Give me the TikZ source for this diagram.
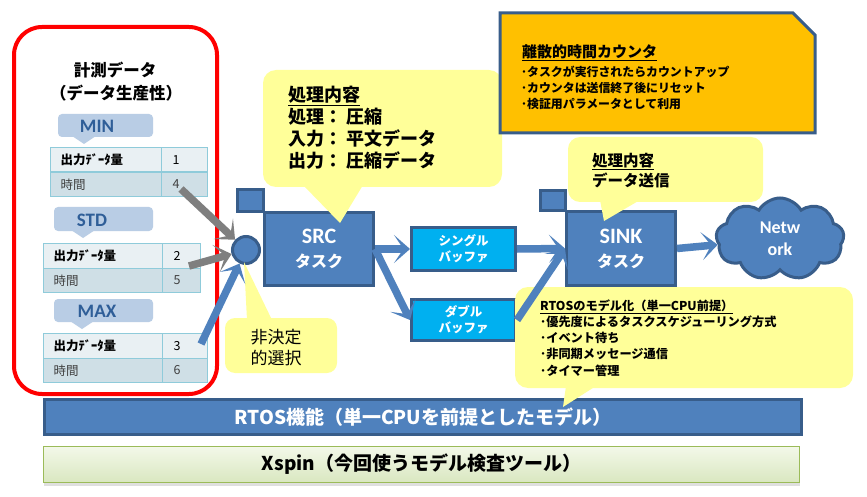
\documentclass[tikz,border=0pt]{standalone}
\usepackage{fontspec}
\setmainfont{Noto Sans CJK JP}
\newfontfamily\latf{Carlito}
\usetikzlibrary{arrows.meta,shapes.symbols,shadows}
\definecolor{bF}{HTML}{4F81BD}
\definecolor{bD}{HTML}{385D8A}
\definecolor{cyanB}{HTML}{00B0F0}
\definecolor{yelC}{HTML}{FFFF99}
\definecolor{orgC}{HTML}{FFC000}
\definecolor{tabF}{HTML}{B9CDE5}
\definecolor{tabT}{HTML}{2F5E98}
\definecolor{cellAF}{HTML}{E9F0F3}
\definecolor{cellBF}{HTML}{CFDFE6}
\definecolor{cellLn}{HTML}{8FCBDA}
\definecolor{grA}{HTML}{7F7F7F}
\definecolor{grnL}{HTML}{9BBB59}
\definecolor{grnT}{HTML}{F3F8E9}
\definecolor{grnB}{HTML}{D9E7C0}
\definecolor{txtG}{HTML}{404040}
\begin{document}
\begin{tikzpicture}[x=1pt,y=-1pt,
  task/.style={draw=bD, fill=bF, line width=3pt, inner sep=0pt},
  buf/.style={draw=bD, fill=cyanB, line width=3pt, inner sep=0pt, text=white, align=center, font=\bfseries\fontsize{12.5}{16}\selectfont},
  callbg/.style={fill=yelC, rounded corners=13pt, inner sep=0pt},
  txt/.style={inner sep=0pt, anchor=west, align=left},
  tabbox/.style={fill=tabF, rounded corners=4pt, inner sep=0pt},
  tabtxt/.style={inner sep=0pt, text=tabT, font=\latf\bfseries\fontsize{19}{20}\selectfont},
  cellbase/.style={draw=cellLn, line width=1.2pt, minimum height=24.5pt, inner ysep=0pt, anchor=north west, align=left, font=\fontsize{12.5}{14}\selectfont},
  cA/.style={cellbase, fill=cellAF, inner xsep=10pt},
  cB/.style={cellbase, fill=cellBF, inner xsep=10pt, text=txtG},
  garr/.style={draw=grA, line width=7.5pt, -{Stealth[length=16pt, width=28pt, inset=9.5pt]}},
  barr/.style={draw=bF, line width=7.5pt, -{Stealth[length=16pt, width=28pt, inset=9.5pt]}}
]
\useasboundingbox (0,0) rectangle (867,497);
\fill[white] (0,0) rectangle (867,497);

% bottom bars
\node[draw=bD, fill=bF, line width=2.5pt, minimum width=757pt, minimum height=35pt, inner sep=0pt, text=white, font=\bfseries\fontsize{19}{22}\selectfont] (rtos) at (423,417) {RTOS機能（単一CPUを前提としたモデル）};
\node[draw=grnL, top color=grnT, bottom color=grnB, line width=1.2pt, minimum width=756pt, minimum height=36pt, inner sep=0pt, drop shadow={shadow xshift=0pt, shadow yshift=-3pt, opacity=0.25}, font=\bfseries\fontsize{19}{22}\selectfont] (xspin) at (421.5,464.5) {Xspin（今回使うモデル検査ツール）};

% left frame
\node[draw=red, line width=4pt, rounded corners=28pt, minimum width=203pt, minimum height=367pt, inner sep=0pt] (frame) at (115.5,210.5) {};
\node[inner sep=0pt, font=\bfseries\fontsize{16.5}{20}\selectfont] (t1) at (115,70) {計測データ};
\node[inner sep=0pt, font=\bfseries\fontsize{16.5}{20}\selectfont] (t2) at (116,93) {（データ生産性）};

% tabs
\node[tabbox, minimum width=95pt, minimum height=23pt] (mintab) at (105.5,125.5) {};
\fill[tabF] (72,136) -- (96,136) -- (84,144) -- cycle;
\node[tabtxt] (minlbl) at (97,126.5) {MIN};
\node[tabbox, minimum width=99pt, minimum height=24pt] (stdtab) at (103.5,219) {};
\fill[tabF] (71,230) -- (95,230) -- (83,238) -- cycle;
\node[tabtxt] (stdlbl) at (92,220) {STD};
\node[tabbox, minimum width=99pt, minimum height=23pt] (maxtab) at (103.5,310.5) {};
\fill[tabF] (70,321) -- (94,321) -- (82,329) -- cycle;
\node[tabtxt] (maxlbl) at (97,311.5) {MAX};

% tables
\node[cA, text width=91pt] (min11) at (50,147) {\bfseries 出力ﾃﾞｰﾀ量};
\node[cA, text width=24pt, inner xsep=11pt] (min12) at (161,147) {1};
\node[cB, text width=91pt] (min21) at (50,171.5) {時間};
\node[cB, text width=24pt, inner xsep=11pt] (min22) at (161,171.5) {4};

\node[cA, text width=99pt] (std11) at (43,243) {\bfseries 出力ﾃﾞｰﾀ量};
\node[cA, text width=16pt, inner xsep=11pt] (std12) at (162,243) {2};
\node[cB, text width=99pt] (std21) at (43,267.5) {時間};
\node[cB, text width=16pt, inner xsep=11pt] (std22) at (162,267.5) {5};

\node[cA, text width=99pt] (max11) at (43,333) {\bfseries 出力ﾃﾞｰﾀ量};
\node[cA, text width=23pt, inner xsep=11pt] (max12) at (162,333) {3};
\node[cB, text width=99pt] (max21) at (43,357.5) {時間};
\node[cB, text width=23pt, inner xsep=11pt] (max22) at (162,357.5) {6};

% selection circle and tasks
\node[circle, draw=bD, fill=bF, line width=3pt, minimum size=27pt, inner sep=0pt] (sel) at (246,250) {};
\node[task, minimum width=26pt, minimum height=22pt] (srcsq) at (250.5,200.5) {};
\node[task, minimum width=109pt, minimum height=73pt, text=white, align=center, font=\bfseries\fontsize{16}{24}\selectfont] (src) at (319,249) {{\latf\bfseries\fontsize{22}{24}\selectfont SRC}\\タスク};
\node[buf, minimum width=104pt, minimum height=43pt] (single) at (463.5,249) {シングル\\バッファ};
\node[buf, minimum width=104pt, minimum height=41pt] (double) at (463.5,320) {ダブル\\バッファ};
\node[task, minimum width=25pt, minimum height=20pt] (sinksq) at (553,200.5) {};
\node[task, minimum width=109pt, minimum height=74pt, text=white, align=center, font=\bfseries\fontsize{16}{24}\selectfont] (sink) at (621,248.5) {{\latf\bfseries\fontsize{22}{24}\selectfont SINK}\\タスク};
\node[cloud, cloud puffs=9, cloud puff arc=120, aspect=1.55, draw=bD, fill=bF, line width=3pt, minimum width=128pt, minimum height=82pt, inner sep=0pt, text=white, align=center, font=\latf\bfseries\fontsize{18}{22}\selectfont] (net) at (780,239) {Netw\\ork};

% callouts
\node[callbg, minimum width=239pt, minimum height=117pt] (srccall) at (382.5,128.5) {};
\fill[yelC] (303,185) -- (363,185) -- (340,223) -- cycle;
\node[txt, font=\bfseries\fontsize{18}{22}\selectfont] (srctxt) at (288,128) {\underline{処理内容}\\処理： 圧縮\\入力： 平文データ\\出力： 圧縮データ};

\node[callbg, rounded corners=12pt, minimum width=195pt, minimum height=65pt] (sinkcall) at (665.5,169.5) {};
\fill[yelC] (600,200) -- (640,200) -- (604,221) -- cycle;
\node[txt, font=\bfseries\fontsize{15.5}{20}\selectfont] (sinktxt) at (592,170.5) {\underline{処理内容}\\データ送信};

\node[callbg, minimum width=338pt, minimum height=101pt] (rtcall) at (684,337.5) {};
\fill[yelC] (566,386) -- (596,386) -- (563,407) -- cycle;
\node[txt, font=\bfseries\fontsize{12.2}{16.2}\selectfont] (rttxt) at (540,338) {\underline{RTOSのモデル化（単一CPU前提）}\\･優先度によるタスクスケジューリング方式\\･イベント待ち\\･非同期メッセージ通信\\･タイマー管理};

\node[callbg, rounded corners=10pt, minimum width=112pt, minimum height=55pt] (ndcall) at (281,345.5) {};
\fill[yelC] (247,320) -- (272,320) -- (244,262) -- cycle;
\node[inner sep=0pt, align=left, font=\fontsize{17}{21}\selectfont] (ndtxt) at (276,348) {非決定\\的選択};

% orange box
\draw[draw=bD, fill=orgC, line width=3pt] (500,13) -- (793,13) -- (815,35) -- (815,133) -- (500,133) -- cycle;
\node[txt, font=\bfseries\fontsize{15}{18}\selectfont] (octitle) at (522,53) {\underline{離散的時間カウンタ}};
\node[txt, font=\bfseries\fontsize{11.9}{16}\selectfont] (ocbody) at (521,88) {･タスクが実行されたらカウントアップ\\･カウンタは送信終了後にリセット\\･検証用パラメータとして利用};

% connectors
\coordinate (g1s) at (181,189);
\coordinate (g2s) at (189,266);
\coordinate (b1s) at (201,344);
\draw[garr] (g1s) -- (sel);
\draw[garr] (g2s) -- (sel);
\draw[barr] (b1s) -- (sel);
\draw[barr] (src.east) -- (single.west);
\draw[barr] (src.east) -- (double.west);
\draw[barr] (single.east) -- (sink.west);
\draw[barr] (double.east) -- (sink.west);
\draw[barr] (sink.east) -- (net);
\end{tikzpicture}
\end{document}
